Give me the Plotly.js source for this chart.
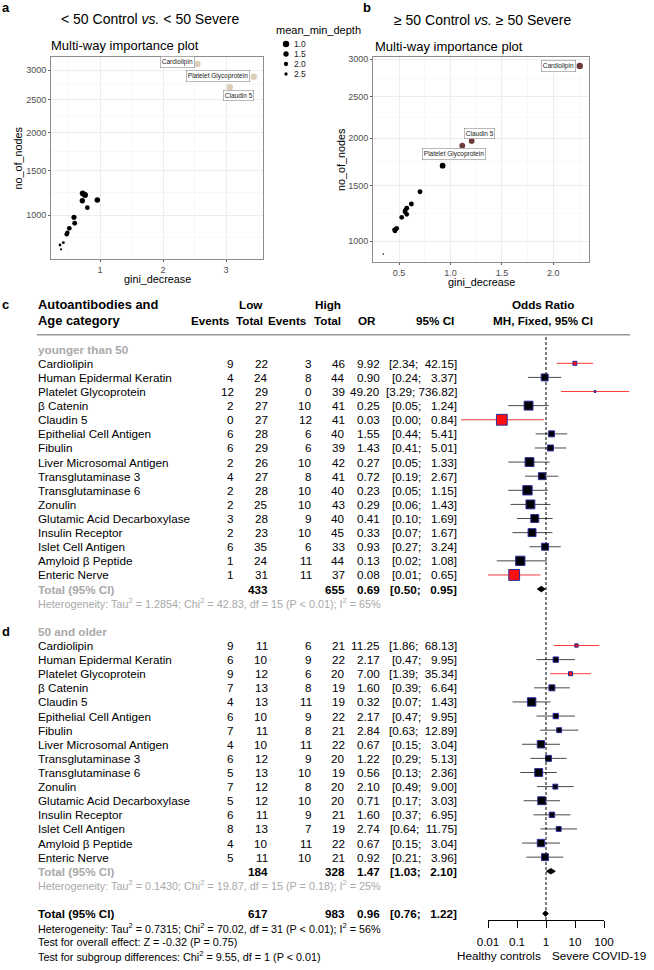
<!DOCTYPE html>
<html><head><meta charset="utf-8">
<script src="https://cdn.plot.ly/plotly-3.0.1.min.js"></script>
<style>html,body{margin:0;padding:0;background:#fff}#chart{width:654px;height:970px}</style>
</head><body><div id="chart"></div>
<script>
// ---------------- DATA ----------------
// Panel a: < 50 Control vs. < 50 Severe (multi-way importance)
const labelsA = ["Cardiolipin","Platelet Glycoprotein","Claudin 5","","","","","","","","","","","","",""];
const giniA   = [2.545, 3.44, 3.06, 0.725, 0.762, 0.719, 0.957, 0.799, 0.587, 0.598, 0.513, 0.481, 0.471, 0.418, 0.365, 0.381];
const nodesA  = [3106, 2884, 2705, 1231, 1212, 1149, 1157, 1075, 977, 918, 870, 829, 814, 740, 720, 683];
const depthA  = [1.0, 1.0, 1.0, 1.3, 1.2, 1.5, 1.4, 1.8, 1.6, 1.7, 1.8, 1.9, 1.9, 2.7, 2.7, 3.0];
// Panel b: >= 50 Control vs. >= 50 Severe
const labelsB = ["Cardiolipin","Claudin 5","Platelet Glycoprotein","","","","","","","","","","","","",""];
const giniB   = [2.257, 1.206, 1.115, 0.924, 0.704, 0.620, 0.575, 0.558, 0.575, 0.526, 0.560, 0.478, 0.461, 0.455, 0.470, 0.347];
const nodesB  = [2908, 1970, 1917, 1701, 1439, 1323, 1283, 1252, 1229, 1202, 1262, 1107, 1084, 1095, 1100, 900];
const depthB  = [1.0, 1.3, 1.3, 1.3, 1.7, 1.7, 1.7, 1.8, 1.8, 1.8, 1.8, 1.9, 1.9, 1.9, 1.9, 3.3];
const legendDepths = [1.0, 1.5, 2.0, 2.5];
const yTicksNodes = [1000, 1500, 2000, 2500, 3000];

// Forest plot
const antibodies = ["Cardiolipin","Human Epidermal Keratin","Platelet Glycoprotein","β Catenin","Claudin 5","Epithelial Cell Antigen","Fibulin","Liver Microsomal Antigen","Transglutaminase 3","Transglutaminase 6","Zonulin","Glutamic Acid Decarboxylase","Insulin Receptor","Islet Cell Antigen","Amyloid β Peptide","Enteric Nerve"];
const groupNames = ["younger than 50", "50 and older"];
// younger than 50
const youngLowEvents  = [9,4,12,2,0,6,6,2,4,2,2,3,2,6,1,1];
const youngLowTotal   = [22,24,29,27,27,28,29,26,27,28,25,28,23,35,24,31];
const youngHighEvents = [3,8,0,10,12,6,6,10,8,10,10,9,10,6,11,11];
const youngHighTotal  = [46,44,39,41,41,40,39,42,41,40,43,40,45,33,44,37];
const youngOR  = [9.92,0.90,49.20,0.25,0.03,1.55,1.43,0.27,0.72,0.23,0.29,0.41,0.33,0.93,0.13,0.08];
const youngLo  = [2.34,0.24,3.29,0.05,0.00,0.44,0.41,0.05,0.19,0.05,0.06,0.10,0.07,0.27,0.02,0.01];
const youngHi  = [42.15,3.37,736.82,1.24,0.84,5.41,5.01,1.33,2.67,1.15,1.43,1.69,1.67,3.24,1.08,0.65];
const youngWeight = [1.0,3.0,0.2,4.9,7.3,2.2,2.2,4.9,3.0,5.4,4.9,3.9,3.9,3.0,5.4,7.3];
// 50 and older
const oldLowEvents  = [9,6,9,7,4,6,7,4,6,5,7,5,6,8,4,5];
const oldLowTotal   = [11,10,12,13,13,10,11,10,12,13,12,12,11,13,10,11];
const oldHighEvents = [6,9,6,8,11,9,8,11,9,10,8,10,9,7,11,10];
const oldHighTotal  = [21,22,20,19,19,22,21,22,20,19,20,20,21,19,22,21];
const oldOR  = [11.25,2.17,7.00,1.60,0.32,2.17,2.84,0.67,1.22,0.56,2.10,0.71,1.60,2.74,0.67,0.92];
const oldLo  = [1.86,0.47,1.39,0.39,0.07,0.47,0.63,0.15,0.29,0.13,0.49,0.17,0.37,0.64,0.15,0.21];
const oldHi  = [68.13,9.95,35.34,6.64,1.43,9.95,12.89,3.04,5.13,2.36,9.00,3.03,6.95,11.75,3.04,3.96];
const oldWeight = [0.7,1.8,1.0,2.2,4.4,1.8,1.5,3.4,2.2,3.9,1.5,3.9,1.8,1.5,3.4,3.0];
// subgroup totals and heterogeneity
const subOR = [0.69, 1.47], subLo = [0.50, 1.03], subHi = [0.95, 2.10];
const subTau2 = ["1.2854","0.1430"], subChi2 = ["42.83","19.87"], subDf = [15,15], subP = ["P &lt; 0.01","P = 0.18"], subI2 = [65,25];
const allOR = 0.96, allLo = 0.76, allHi = 1.22;
const allTau2 = "0.7315", allChi2 = "70.02", allDf = 31, allP = "P &lt; 0.01", allI2 = 56;
const overallZ = "-0.32", overallP = "P = 0.75";
const subDiffChi2 = "9.55", subDiffDf = 1, subDiffP = "P &lt; 0.01";
const orTicks = [0.01, 0.1, 1, 10, 100];
const orTickText = ["0.01","0.1","1","10","100"];

// ---------------- HELPERS ----------------
const FONT = "Liberation Sans, Arial, Helvetica, sans-serif";
const W = 654, H = 970;
const px = x => x / W;
const py = y => 1 - y / H;
const sq = v => Math.sqrt(v);
const dotSize = d => Math.max(1.4, 6.4 - 2.1 * (d - 1));
const ROW0 = 349.2, ROWH = 14.11;       // forest rows: pixel of row 0, row pitch
const rowPix = r => ROW0 + ROWH * r;
const ZERO = 546, DEC = 29;             // OR=1 pixel, pixels per decade

const traces = [];
const A = [];
const shapes = [];
function txt(text, x, y, o = {}) {
  A.push({text, x: px(x), xref: 'paper', y: py(y), yref: 'paper',
    xanchor: o.xa || 'left', yanchor: 'middle', showarrow: false, borderpad: 0,
    textangle: o.angle || 0,
    font: {family: FONT, size: o.size || 11.7, color: o.color || 'black'}});
}

// ---------------- PANELS a / b ----------------
function panel(labels, gini, nodes, depth, topColor, xa, ya, offsets) {
  const idx = gini.map((_, i) => i);
  const blk = idx.filter(i => !labels[i]);
  const top = idx.filter(i => labels[i]);
  [[blk, 'black'], [top, topColor]].forEach(([ids, col]) => {
    traces.push({type: 'scatter', mode: 'markers', xaxis: xa, yaxis: ya, hoverinfo: 'skip',
      x: ids.map(i => gini[i]), y: ids.map(i => sq(nodes[i])),
      marker: {color: col, opacity: 1, size: ids.map(i => dotSize(depth[i])), line: {width: 0}}});
  });
  top.forEach(i => {
    const off = offsets[labels[i]];
    A.push({text: labels[i], x: gini[i], y: sq(nodes[i]), xref: xa, yref: ya,
      xshift: off[0], yshift: off[1], showarrow: false, bgcolor: 'white',
      bordercolor: '#8a8a8a', borderwidth: 0.6, borderpad: 1.2,
      font: {family: FONT, size: 6.5, color: '#222'}});
  });
}
panel(labelsA, giniA, nodesA, depthA, '#dccdba', 'x', 'y',
  {"Cardiolipin": [-20, 2], "Platelet Glycoprotein": [-36, 0.5], "Claudin 5": [8.5, -8]});
panel(labelsB, giniB, nodesB, depthB, '#6b3b37', 'x2', 'y2',
  {"Cardiolipin": [-21, 0], "Claudin 5": [8.3, 7.2], "Platelet Glycoprotein": [-7.8, -8.1]});

// legend (mean_min_depth)
traces.push({type: 'scatter', mode: 'markers', xaxis: 'x5', yaxis: 'y5', hoverinfo: 'skip',
  x: legendDepths.map(() => 0.5), y: legendDepths,
  marker: {color: 'black', opacity: 1, size: legendDepths.map(dotSize), line: {width: 0}}});
legendDepths.forEach(d => A.push({text: d.toFixed(1), x: px(292.5), xref: 'paper', y: d, yref: 'y5',
  xanchor: 'left', yanchor: 'middle', showarrow: false, borderpad: 0,
  font: {family: FONT, size: 8.5, color: '#222'}}));
txt('mean_min_depth', 275, 30, {size: 11});

function ggAxis(domain, range, tickvals, ticktext, minorvals, anchor) {
  return {domain, range, anchor, tickmode: 'array', tickvals, ticktext,
    ticks: 'outside', ticklen: 2, tickwidth: 0.8, tickcolor: '#333',
    tickfont: {family: FONT, size: 9, color: '#4d4d4d'},
    showgrid: true, gridcolor: '#ebebeb', gridwidth: 0.9, zeroline: false,
    showline: true, mirror: true, linecolor: '#808080', linewidth: 0.9,
    minor: {tickmode: 'array', tickvals: minorvals, showgrid: true, gridcolor: '#f3f3f3', gridwidth: 0.6, ticks: ''},
    fixedrange: true};
}
const ySq = yTicksNodes.map(sq);
const yMinor = [ySq[0] - (ySq[1] - ySq[0]) / 2].concat(ySq.slice(1).map((v, i) => (v + ySq[i]) / 2));
const yTickText = yTicksNodes.map(String);

// titles
txt('&lt; 50 Control <i>vs.</i> &lt; 50 Severe', 150, 18.5, {xa: 'center', size: 14});
txt('≥ 50 Control <i>vs.</i> ≥ 50 Severe', 482.7, 20, {xa: 'center', size: 14});
txt('Multi-way importance plot', 50, 45, {size: 13});
txt('Multi-way importance plot', 374.3, 46.7, {size: 13});
txt('gini_decrease', 157, 279, {xa: 'center', size: 10.8});
txt('gini_decrease', 481.7, 282.3, {xa: 'center', size: 10.8});
txt('no_of_nodes', 17.5, 158, {xa: 'center', size: 10.8, angle: -90});
txt('no_of_nodes', 341, 160, {xa: 'center', size: 10.8, angle: -90});
txt('<b>a</b>', 1, 8, {size: 13});
txt('<b>b</b>', 362, 8, {size: 13});
txt('<b>c</b>', 1, 304, {size: 13});
txt('<b>d</b>', 1, 631, {size: 13});

// ---------------- FOREST ----------------
const GRAY = '#a9a9a9';
const fmt2 = v => v.toFixed(2);
const ciStr = (lo, hi) => '[' + fmt2(lo) + ';' + fmt2(hi).padStart(7, '\u00a0') + ']';
const COLX = {le: 235, lt: 268.7, he: 312.7, ht: 346, or: 381, ci: 458};

// header
txt('<b>Autoantibodies and</b>', 37, 304, {size: 12.9});
txt('<b>Age category</b>', 37, 321, {size: 12.9});
txt('<b>Low</b>', 263.5, 304, {xa: 'right'});
txt('<b>Events</b>', 230.5, 321, {xa: 'right'});
txt('<b>Total</b>', 263.5, 321, {xa: 'right'});
txt('<b>High</b>', 342, 304, {xa: 'right'});
txt('<b>Events</b>', 307.5, 321, {xa: 'right'});
txt('<b>Total</b>', 342, 321, {xa: 'right'});
txt('<b>OR</b>', 376.5, 321, {xa: 'right'});
txt('<b>95% CI</b>', 434.7, 321, {xa: 'center'});
txt('<b>Odds Ratio</b>', 543, 304, {xa: 'center'});
txt('<b>MH, Fixed, 95% CI</b>', 543, 321, {xa: 'center'});
shapes.push({type: 'line', xref: 'paper', yref: 'paper', x0: px(37), x1: px(630), y0: py(334.7), y1: py(334.7),
  line: {color: '#9a9a9a', width: 1.5}});

const groups = [
  {name: groupNames[0], le: youngLowEvents, lt: youngLowTotal, he: youngHighEvents, ht: youngHighTotal,
   or: youngOR, lo: youngLo, hi: youngHi, w: youngWeight, row0: 0},
  {name: groupNames[1], le: oldLowEvents, lt: oldLowTotal, he: oldHighEvents, ht: oldHighTotal,
   or: oldOR, lo: oldLo, hi: oldHi, w: oldWeight, row0: 20}
];
const sum = a => a.reduce((s, v) => s + v, 0);
const grayLines = {x: [], y: []}, redLines = {x: [], y: []};
const sqX = [], sqY = [], sqS = [], sqC = [];
const diamonds = [];
function diamond(or, lo, hi, r) {
  return {type: 'scatter', mode: 'lines', xaxis: 'x3', yaxis: 'y3', hoverinfo: 'skip',
    x: [lo, or, hi, or, lo], y: [r, r - 0.2, r, r + 0.2, r], fill: 'toself', fillcolor: 'black',
    line: {color: 'black', width: 0.8}};
}
groups.forEach((g, gi) => {
  txt('<b>' + g.name + '</b>', 37, rowPix(g.row0), {color: GRAY});
  antibodies.forEach((name, i) => {
    const r = g.row0 + 1 + i, y = rowPix(r);
    txt(name, 37, y);
    txt(String(g.le[i]), COLX.le, y, {xa: 'right'});
    txt(String(g.lt[i]), COLX.lt, y, {xa: 'right'});
    txt(String(g.he[i]), COLX.he, y, {xa: 'right'});
    txt(String(g.ht[i]), COLX.ht, y, {xa: 'right'});
    txt(fmt2(g.or[i]), COLX.or, y, {xa: 'right'});
    txt(ciStr(g.lo[i], g.hi[i]), COLX.ci, y, {xa: 'right'});
    const sig = g.lo[i] > 1 || g.hi[i] < 1;
    // a displayed lower limit of 0.00 is drawn at its log-symmetric position (runs off the axis)
    const loDraw = g.lo[i] > 0 ? g.lo[i] : g.or[i] * g.or[i] / g.hi[i];
    const L = sig ? redLines : grayLines;
    L.x.push(loDraw, g.hi[i], null); L.y.push(r, r, null);
    sqX.push(g.or[i]); sqY.push(r); sqS.push(4.0 * Math.sqrt(g.w[i])); sqC.push(sig ? '#ff1010' : 'black');
  });
  const rt = g.row0 + 17, yt = rowPix(rt);
  txt('<b>Total (95% CI)</b>', 37, yt, {color: GRAY});
  txt('<b>' + sum(g.lt) + '</b>', COLX.lt, yt, {xa: 'right'});
  txt('<b>' + sum(g.ht) + '</b>', COLX.ht, yt, {xa: 'right'});
  txt('<b>' + fmt2(subOR[gi]) + '</b>', COLX.or, yt, {xa: 'right'});
  txt('<b>' + ciStr(subLo[gi], subHi[gi]) + '</b>', COLX.ci, yt, {xa: 'right'});
  txt('Heterogeneity: Tau<sup>2</sup> = ' + subTau2[gi] + '; Chi<sup>2</sup> = ' + subChi2[gi] + ', df = ' + subDf[gi] +
      ' (' + subP[gi] + '); I<sup>2</sup> = ' + subI2[gi] + '%', 37, rowPix(g.row0 + 18), {color: GRAY, size: 10.8});
  diamonds.push(diamond(subOR[gi], subLo[gi], subHi[gi], rt));
});
// overall
const rAll = 40, yAll = rowPix(rAll);
txt('<b>Total (95% CI)</b>', 37, yAll);
txt('<b>' + (sum(youngLowTotal) + sum(oldLowTotal)) + '</b>', COLX.lt, yAll, {xa: 'right'});
txt('<b>' + (sum(youngHighTotal) + sum(oldHighTotal)) + '</b>', COLX.ht, yAll, {xa: 'right'});
txt('<b>' + fmt2(allOR) + '</b>', COLX.or, yAll, {xa: 'right'});
txt('<b>' + ciStr(allLo, allHi) + '</b>', COLX.ci, yAll, {xa: 'right'});
txt('Heterogeneity: Tau<sup>2</sup> = ' + allTau2 + '; Chi<sup>2</sup> = ' + allChi2 + ', df = ' + allDf +
    ' (' + allP + '); I<sup>2</sup> = ' + allI2 + '%', 37, rowPix(41), {size: 10.8});
txt('Test for overall effect: Z = ' + overallZ + ' (' + overallP + ')', 37, rowPix(42), {size: 10.8});
txt('Test for subgroup differences: Chi<sup>2</sup> = ' + subDiffChi2 + ', df = ' + subDiffDf + ' (' + subDiffP + ')', 37, rowPix(43), {size: 10.8});
txt('Healthy controls', 499, 955, {xa: 'center'});
txt('Severe COVID-19', 599, 955, {xa: 'center'});
diamonds.push(diamond(allOR, allLo, allHi, rAll));

const yRange3 = [(920 - ROW0) / ROWH, (335 - ROW0) / ROWH];
traces.push({type: 'scatter', mode: 'lines', xaxis: 'x4', yaxis: 'y3', hoverinfo: 'skip',
  x: [1, 1], y: yRange3, line: {color: 'black', width: 1, dash: '3px,2px'}});
traces.push({type: 'scatter', mode: 'lines', xaxis: 'x3', yaxis: 'y3', hoverinfo: 'skip',
  x: grayLines.x, y: grayLines.y, connectgaps: false, line: {color: '#4a4a4a', width: 1}});
traces.push({type: 'scatter', mode: 'lines', xaxis: 'x3', yaxis: 'y3', hoverinfo: 'skip',
  x: redLines.x, y: redLines.y, connectgaps: false, line: {color: '#ff3b3b', width: 1}});
diamonds.forEach(d => traces.push(d));
traces.push({type: 'scatter', mode: 'markers', xaxis: 'x3', yaxis: 'y3', hoverinfo: 'skip',
  x: sqX, y: sqY, cliponaxis: false,
  marker: {symbol: 'square', opacity: 1, size: sqS, color: sqC, line: {color: '#2a2a9c', width: 1}}});

const layout = {
  width: W, height: H, margin: {l: 0, r: 0, t: 0, b: 0}, showlegend: false,
  paper_bgcolor: 'white', plot_bgcolor: 'rgba(0,0,0,0)',
  font: {family: FONT, size: 11.7, color: 'black'},
  xaxis: ggAxis([px(51), px(263)], [0.222, 3.587], [1, 2, 3], ['1', '2', '3'], [0.5, 1.5, 2.5, 3.5], 'y'),
  yaxis: ggAxis([py(259), py(57)], [sq(605), sq(3232)], ySq, yTickText, yMinor, 'x'),
  xaxis2: ggAxis([px(373), px(589)], [0.247, 2.347], [0.5, 1.0, 1.5, 2.0], ['0.5', '1.0', '1.5', '2.0'], [0.25, 0.75, 1.25, 1.75, 2.25], 'y2'),
  yaxis2: ggAxis([py(262), py(57)], [28.99, 55.06], ySq, yTickText, yMinor, 'x2'),
  xaxis3: {domain: [px(461), px(632)], type: 'log', range: [(461 - ZERO) / DEC, (632 - ZERO) / DEC], anchor: 'y3', visible: false, fixedrange: true},
  xaxis4: {domain: [px(488), px(604)], type: 'log', range: [-2, 2], anchor: 'y3', showline: true, linecolor: 'black', linewidth: 1,
    ticks: 'outside', ticklen: 7, tickwidth: 1, tickcolor: 'black', tickmode: 'array', tickvals: orTicks, ticktext: orTickText,
    tickfont: {family: FONT, size: 11.7, color: 'black'}, ticklabelstandoff: 4, showgrid: false, zeroline: false, fixedrange: true},
  yaxis3: {domain: [py(920), py(335)], range: yRange3, anchor: 'x3', visible: false, fixedrange: true},
  xaxis5: {domain: [px(280), px(292)], range: [0, 1], anchor: 'y5', visible: false, fixedrange: true},
  yaxis5: {domain: [py(79), py(39)], range: [2.75, 0.75], anchor: 'x5', visible: false, fixedrange: true},
  annotations: A, shapes
};
Plotly.newPlot('chart', traces, layout, {displayModeBar: false, staticPlot: true});
</script></body></html>
